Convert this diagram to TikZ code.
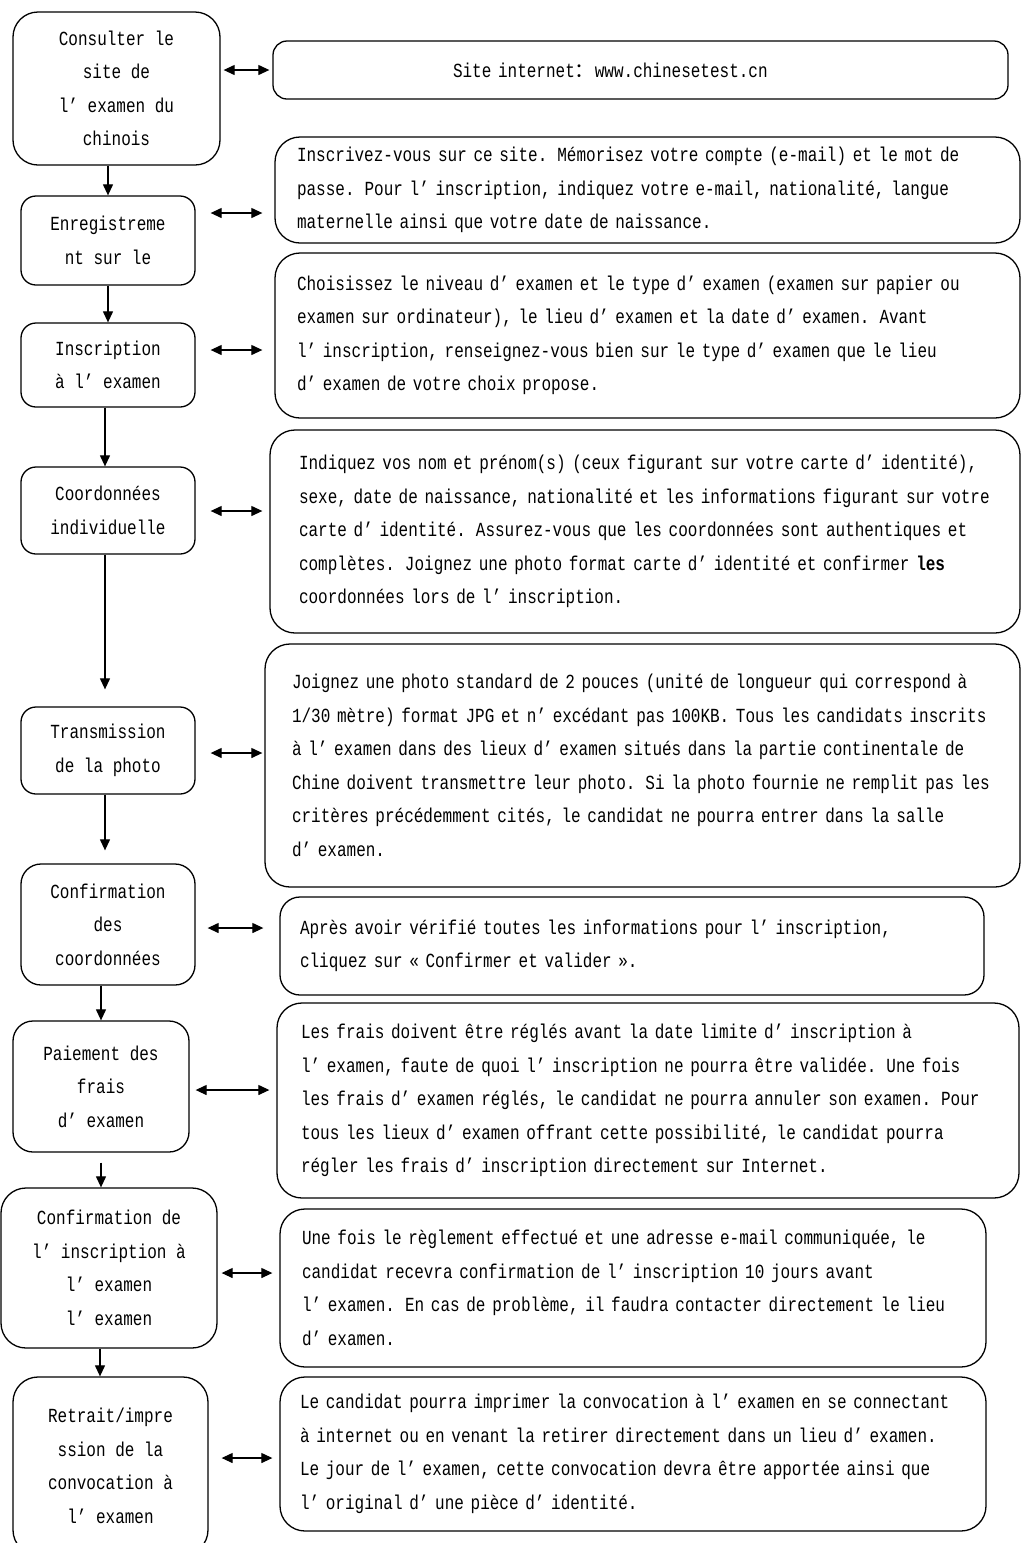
\documentclass[tikz,border=0pt]{standalone}
\usepackage{fontspec}
\usetikzlibrary{arrows.meta}
\newfontfamily\diagfont[FakeStretch=0.8]{Liberation Mono}
\newfontfamily\cjk{Noto Sans CJK SC}
\newcommand\boxfont{\diagfont\fontsize{20}{33.5}\selectfont}
\tikzset{
  lbox/.style={draw, line width=1.3pt, inner sep=0pt, align=center, font=\boxfont},
  rbox/.style={draw, line width=1.3pt, inner sep=0pt, align=left, font=\boxfont, rounded corners=25pt},
  harr/.style={line width=1.2pt, {Triangle[length=11pt,width=10pt]}-{Triangle[length=11pt,width=10pt]}},
  varr/.style={line width=1.2pt, -{Triangle[length=11pt,width=10pt]}}
}
\begin{document}
\begin{tikzpicture}[x=1pt,y=-1pt]
\useasboundingbox (0,0) rectangle (1021,1543);
\fill[white] (0,0) rectangle (1021,1543);
\clip (0,0) rectangle (1021,1543);

% left column
\node[lbox, rounded corners=25pt, minimum width=207pt, minimum height=153pt] (L1) at (116.5,88.5) {Consulter le\\site de\\l’ examen du\\chinois};
\node[lbox, rounded corners=15pt, minimum width=174pt, minimum height=89pt] (L2) at (108,240.5) {Enregistreme\\nt sur le};
\node[lbox, rounded corners=15pt, minimum width=174pt, minimum height=84pt] (L3) at (108,365) {Inscription\\à l’ examen};
\node[lbox, rounded corners=15pt, minimum width=174pt, minimum height=87pt] (L4) at (108,510.5) {Coordonnées\\individuelle};
\node[lbox, rounded corners=15pt, minimum width=174pt, minimum height=87pt] (L5) at (108,750.5) {Transmission\\de la photo};
\node[lbox, rounded corners=20pt, minimum width=174pt, minimum height=121pt] (L6) at (108,924.5) {Confirmation\\des\\coordonnées};
\node[lbox, rounded corners=20pt, minimum width=176pt, minimum height=131pt] (L7) at (101,1086.5) {Paiement des\\frais\\d’ examen};
\node[lbox, rounded corners=25pt, minimum width=216pt, minimum height=160pt] (L8) at (109,1268) {Confirmation de\\l’ inscription à\\l’ examen\\l’ examen};
\node[lbox, rounded corners=25pt, minimum width=195pt, minimum height=178pt] (L9) at (110.5,1466) {Retrait/impre\\ssion de la\\convocation à\\l’ examen};

% right column
\node[rbox, rounded corners=14pt, minimum width=735pt, minimum height=58pt, text width=375pt] (R1) at (640.5,70) {Site internet{\cjk ：}www.chinesetest.cn};
\node[rbox, minimum width=745pt, minimum height=106pt, text width=701pt] (R2) at (647.5,190) {Inscrivez-vous sur ce site. Mémorisez votre compte (e-mail) et le mot de\\passe. Pour l’ inscription, indiquez votre e-mail, nationalité, langue\\maternelle ainsi que votre date de naissance.};
\node[rbox, minimum width=745pt, minimum height=165pt, text width=701pt] (R3) at (647.5,335.5) {Choisissez le niveau d’ examen et le type d’ examen (examen sur papier ou\\examen sur ordinateur), le lieu d’ examen et la date d’ examen. Avant\\l’ inscription, renseignez-vous bien sur le type d’ examen que le lieu\\d’ examen de votre choix propose.};
\node[rbox, minimum width=750pt, minimum height=203pt, text width=692pt] (R4) at (645,531.5) {Indiquez vos nom et prénom(s) (ceux figurant sur votre carte d’ identité),\\sexe, date de naissance, nationalité et les informations figurant sur votre\\carte d’ identité. Assurez-vous que les coordonnées sont authentiques et\\complètes. Joignez une photo format carte d’ identité et confirmer {\bfseries les}\\coordonnées lors de l’ inscription.};
\node[rbox, minimum width=755pt, minimum height=243pt, text width=701pt] (R5) at (642.5,765.5) {Joignez une photo standard de 2 pouces (unité de longueur qui correspond à\\1/30 mètre) format JPG et n’ excédant pas 100KB. Tous les candidats inscrits\\à l’ examen dans des lieux d’ examen situés dans la partie continentale de\\Chine doivent transmettre leur photo. Si la photo fournie ne remplit pas les\\critères précédemment cités, le candidat ne pourra entrer dans la salle\\d’ examen.};
\node[rbox, rounded corners=20pt, minimum width=704pt, minimum height=98pt, text width=664pt] (R6) at (632,946) {Après avoir vérifié toutes les informations pour l’ inscription,\\cliquez sur « Confirmer et valider ».};
\node[rbox, minimum width=742pt, minimum height=195pt, text width=694pt] (R7) at (648,1100.5) {Les frais doivent être réglés avant la date limite d’ inscription à\\l’ examen, faute de quoi l’ inscription ne pourra être validée. Une fois\\les frais d’ examen réglés, le candidat ne pourra annuler son examen. Pour\\tous les lieux d’ examen offrant cette possibilité, le candidat pourra\\régler les frais d’ inscription directement sur Internet.};
\node[rbox, minimum width=706pt, minimum height=158pt, text width=662pt] (R8) at (633,1288) {Une fois le règlement effectué et une adresse e-mail communiquée, le\\candidat recevra confirmation de l’ inscription 10 jours avant\\l’ examen. En cas de problème, il faudra contacter directement le lieu\\d’ examen.};
\node[rbox, minimum width=706pt, minimum height=154pt, text width=666pt] (R9) at (633,1454) {Le candidat pourra imprimer la convocation à l’ examen en se connectant\\à internet ou en venant la retirer directement dans un lieu d’ examen.\\Le jour de l’ examen, cette convocation devra être apportée ainsi que\\l’ original d’ une pièce d’ identité.};

% rows of horizontal arrows
\coordinate (h1) at (0,70);
\coordinate (h2) at (0,213);
\coordinate (h3) at (0,350);
\coordinate (h4) at (0,511);
\coordinate (h5) at (0,753);
\coordinate (h6) at (0,928);
\coordinate (h7) at (0,1090);
\coordinate (h8) at (0,1273);
\coordinate (h9) at (0,1458);
\draw[harr, shorten <=3pt, shorten >=3pt] (L1.east |- h1) -- (R1.west |- h1);
\draw[harr, shorten <=15pt, shorten >=12pt] (L2.east |- h2) -- (R2.west |- h2);
\draw[harr, shorten <=15pt, shorten >=12pt] (L3.east |- h3) -- (R3.west |- h3);
\draw[harr, shorten <=15pt, shorten >=7pt] (L4.east |- h4) -- (R4.west |- h4);
\draw[harr, shorten <=15pt, shorten >=2pt] (L5.east |- h5) -- (R5.west |- h5);
\draw[harr, shorten <=12pt, shorten >=16pt] (L6.east |- h6) -- (R6.west |- h6);
\draw[harr, shorten <=6pt, shorten >=7pt] (L7.east |- h7) -- (R7.west |- h7);
\draw[harr, shorten <=4pt, shorten >=7pt] (L8.east |- h8) -- (R8.west |- h8);
\draw[harr, shorten <=13pt, shorten >=7pt] (L9.east |- h9) -- (R9.west |- h9);

% vertical arrows
\coordinate (v1) at (108,0);
\coordinate (v3) at (105,0);
\coordinate (v6) at (101,0);
\coordinate (v8) at (100,0);
\draw[varr] (L1.south -| v1) -- (L2.north -| v1);
\draw[varr] (L2.south -| v1) -- (L3.north -| v1);
\draw[varr] (L3.south -| v3) -- (L4.north -| v3);
\draw[varr, shorten >=17pt] (L4.south -| v3) -- (L5.north -| v3);
\draw[varr, shorten >=13pt] (L5.south -| v3) -- (L6.north -| v3);
\draw[varr] (L6.south -| v6) -- (L7.north -| v6);
\draw[varr, shorten <=10pt] (L7.south -| v6) -- (L8.north -| v6);
\draw[varr] (L8.south -| v8) -- (L9.north -| v8);
\end{tikzpicture}
\end{document}
